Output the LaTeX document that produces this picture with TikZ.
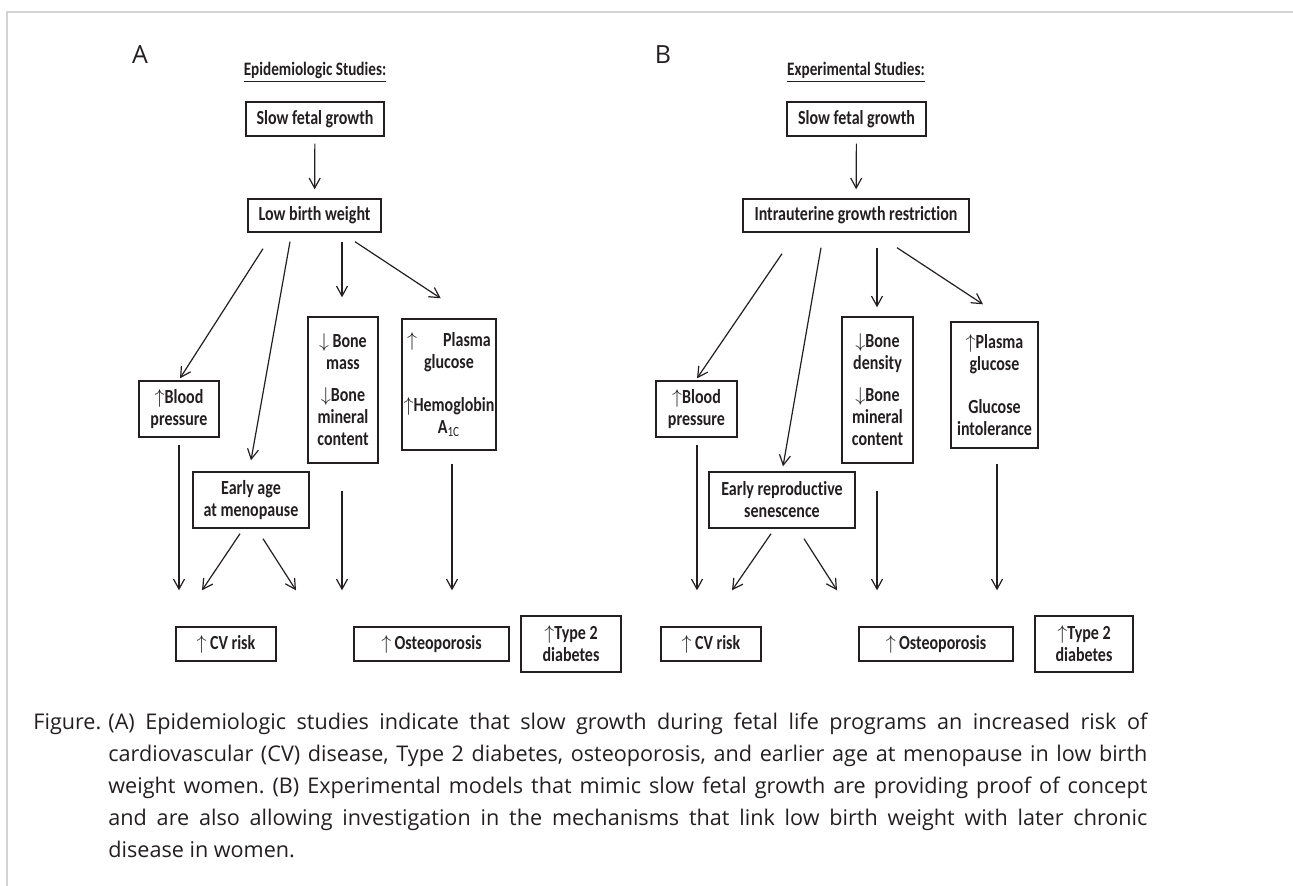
\documentclass[tikz,border=0pt]{standalone}
\usepackage{fontspec}
\setmainfont{Open Sans}
\newfontfamily\boxfont{Carlito}[FakeStretch=0.8, Ligatures=NoCommon]
\usetikzlibrary{shapes, arrows, arrows.meta, calc, positioning}
\definecolor{framegray}{RGB}{212,212,212}
\definecolor{ink}{RGB}{35,31,32}

\begin{document}
\begin{tikzpicture}[x=0.5pt, y=-0.5pt,
	cbox/.style={draw=ink, line width=0.7pt, inner sep=0pt, align=center, text=ink, font=\boxfont\bfseries\fontsize{10}{11}\selectfont},
	sz/.style 2 args={minimum width=#1*0.5pt, minimum height=#2*0.5pt},
	arr/.style={draw=ink, line width=0.6pt, -{Straight Barb[length=5pt,width=5.5pt]}},
	heading/.style={font=\boxfont\bfseries\fontsize{9.5}{11}\selectfont, text=ink},
	panel/.style={font=\fontsize{12.5}{14}\selectfont, text=ink}]
  \useasboundingbox (0,0) rectangle (1293,886);
  \draw[framegray, line width=1pt] (7,886) -- (7,12) -- (1293,12);

  % A: epidemiologic studies
  \node[panel] (labA) at (140,55) {A};
  \node[heading] (headA) at (315,72) {\underline{Epidemiologic Studies:}};
  \node[cbox, sz={138}{34}] (sfgA) at (315,119) {Slow fetal growth};
  \node[cbox, sz={133}{33}] (lbwA) at (314.5,215.5) {Low birth weight};
  \node[cbox, sz={80}{56}] (bpA) at (179,409) {$\uparrow$Blood\\pressure};
  \node[cbox, sz={116}{56}] (earlyA) at (251,500) {Early age\\at menopause};
  \node[cbox, sz={70}{146}] (boneA) at (343,390) {$\downarrow$\,Bone\\mass\\[5pt]$\downarrow$Bone\\mineral\\content};
  \node[cbox, sz={94}{131}] (plasmaA) at (449,384.5) {$\uparrow$\hspace{1.3em}Plasma\\glucose\\[10.5pt]$\uparrow$Hemoglobin\\A\textsubscript{\mdseries 1C}};
  \node[cbox, sz={100}{34}] (cvA) at (226,644) {$\uparrow$\,CV risk};
  \node[cbox, sz={155}{34}] (osteoA) at (431.5,644) {$\uparrow$\,Osteoporosis};
  \node[cbox, sz={100}{56}] (t2dA) at (571,644) {$\uparrow$Type 2\\diabetes};

  \draw[arr, shorten <=3.5pt, shorten >=4.5pt] (sfgA) -- (lbwA);
  \draw[arr] ([shift={(-51.5,16)}]lbwA.south) -- ([shift={(1,-2)}]bpA.north);
  \draw[arr] ([shift={(-24.5,9)}]lbwA.south) -- ([shift={(0,-11)}]earlyA.north);
  \draw[arr] ([shift={(27.5,9)}]lbwA.south) -- ([shift={(-1,-19)}]boneA.north);
  \draw[arr] ([shift={(40.5,9)}]lbwA.south) -- ([shift={(-8.3,-20)}]plasmaA.north);
  \draw[arr] ([shift={(0,7)}]bpA.south) -- ($(bpA.south |- cvA.north)+(0,-36)$);
  \draw[arr] ([shift={(-11,5)}]earlyA.south) -- ([shift={(-24,-36)}]cvA.north);
  \draw[arr] ([shift={(12,10)}]earlyA.south) -- ([shift={(-135.5,-36)}]osteoA.north);
  \draw[arr] ([shift={(-1,27)}]boneA.south) -- ($(boneA.south |- osteoA.north)+(-1,-36)$);
  \draw[arr] ([shift={(3,13)}]plasmaA.south) -- ($(plasmaA.south |- t2dA.north)+(3,-25)$);

  % B: experimental studies
  \node[panel] (labB) at (663,55) {B};
  \node[heading] (headB) at (856,72) {\underline{Experimental Studies:}};
  \node[cbox, sz={139}{34}] (sfgB) at (856.5,119) {Slow fetal growth};
  \node[cbox, sz={226}{33}] (iugrB) at (856,215.5) {Intrauterine growth restriction};
  \node[cbox, sz={81}{56}] (bpB) at (696.5,409) {$\uparrow$Blood\\pressure};
  \node[cbox, sz={146}{56}] (earlyB) at (782,500) {Early reproductive\\senescence};
  \node[cbox, sz={71}{146}] (boneB) at (877.5,390) {$\downarrow$Bone\\density\\[5pt]$\downarrow$Bone\\mineral\\content};
  \node[cbox, sz={87}{126}] (plasmaB) at (994.5,385) {$\uparrow$Plasma\\glucose\\[10.5pt]Glucose\\intolerance};
  \node[cbox, sz={100}{34}] (cvB) at (711,644) {$\uparrow$\,CV risk};
  \node[cbox, sz={154}{34}] (osteoB) at (936,644) {$\uparrow$\,Osteoporosis};
  \node[cbox, sz={98}{56}] (t2dB) at (1084,644) {$\uparrow$Type 2\\diabetes};

  \draw[arr, shorten <=3.5pt, shorten >=4.5pt] (sfgB) -- (iugrB);
  \draw[arr] ([shift={(-74,21)}]iugrB.south) -- ([shift={(0.5,-2)}]bpB.north);
  \draw[arr] ([shift={(-35,15)}]iugrB.south) -- ([shift={(1,-5)}]earlyB.north);
  \draw[arr] ([shift={(21,15)}]iugrB.south) -- ([shift={(-0.5,-9)}]boneB.north);
  \draw[arr] ([shift={(41,15)}]iugrB.south) -- ([shift={(-11.5,-17)}]plasmaB.north);
  \draw[arr] ([shift={(0.5,7)}]bpB.south) -- ($(bpB.south |- cvB.north)+(0.5,-36)$);
  \draw[arr] ([shift={(-11,5)}]earlyB.south) -- ([shift={(21,-36)}]cvB.north);
  \draw[arr] ([shift={(22,10)}]earlyB.south) -- ([shift={(-99,-36)}]osteoB.north);
  \draw[arr] ([shift={(-0.5,27)}]boneB.south) -- ($(boneB.south |- osteoB.north)+(-0.5,-36)$);
  \draw[arr] ([shift={(2.5,15)}]plasmaB.south) -- ($(plasmaB.south |- t2dB.north)+(2.5,-25)$);

  % caption
  \node[anchor=north west, text width=557pt, align=justify, inner sep=0pt, text=ink, font=\fontsize{10.8}{16}\selectfont] (caption) at (33,713)
    {\frenchspacing\noindent\hangindent=37.5pt\hangafter=1\makebox[37.5pt][l]{Figure.}(A) Epidemiologic studies indicate that slow growth during fetal life programs an increased risk of\linebreak
    cardiovascular (CV) disease, Type 2 diabetes, osteoporosis, and earlier age at menopause in low birth\linebreak
    weight women. (B) Experimental models that mimic slow fetal growth are providing proof of concept\linebreak
    and are also allowing investigation in the mechanisms that link low birth weight with later chronic\linebreak
    disease in women.\par};
\end{tikzpicture}
\end{document}
